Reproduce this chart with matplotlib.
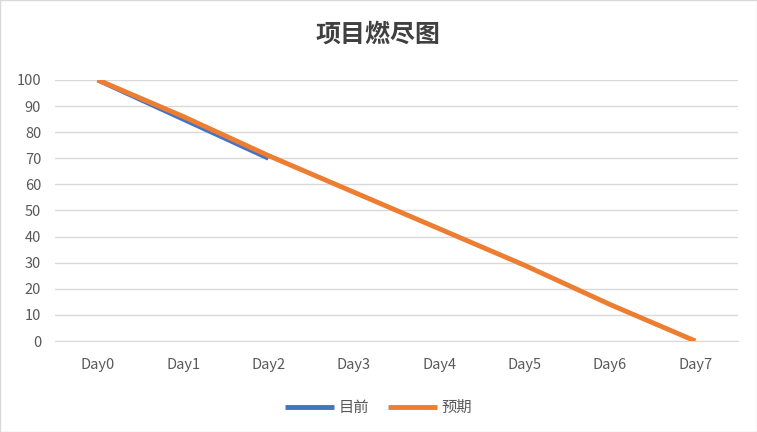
import matplotlib
matplotlib.use("Agg")
import matplotlib.pyplot as plt

plt.rcParams['font.family'] = ['Noto Sans CJK SC', 'DejaVu Sans']

days = ["Day0", "Day1", "Day2", "Day3", "Day4", "Day5", "Day6", "Day7"]
current = [100, 85, 70]
expected = [100, 86, 71, 57, 43, 29, 14, 0]

fig = plt.figure(figsize=(7.57, 4.32), dpi=100)
ax = fig.add_axes([0.0727, 0.2106, 0.9023, 0.6044])
x = list(range(len(days)))
l2, = ax.plot(x, expected, color="#ED7D31", lw=3.5, label="预期", solid_capstyle="butt", zorder=3)
l1, = ax.plot(x[:len(current)], current, color="#4472C4", lw=3.5, label="目前", solid_capstyle="butt", zorder=2)
ax.set_xlim(-0.5, 7.5)
ax.set_ylim(0, 100)
ax.set_yticks(range(0, 101, 10))
ax.set_xticks(x)
ax.set_xticklabels(days)
ax.grid(axis="y", color="#D9D9D9", lw=1)
ax.set_axisbelow(True)
for s in ["top", "right", "left"]:
    ax.spines[s].set_visible(False)
ax.spines["bottom"].set_color("#D9D9D9")
ax.tick_params(length=0, labelsize=10.5, colors="#595959")
ax.tick_params(axis="x", pad=12)
ax.tick_params(axis="y", pad=10)
fig.text(0.5, 0.92, "项目燃尽图", ha="center", va="center", fontsize=18, color="#404040", fontweight="bold")
fig.legend([l1, l2], ["目前", "预期"], loc="center", bbox_to_anchor=(0.5, 0.057), ncol=2, frameon=False,
           fontsize=11, handlelength=3.2, handletextpad=0.3, labelcolor="#595959", columnspacing=1.2)
fig.patches.append(plt.Rectangle((0, 0), 1, 1, transform=fig.transFigure, fill=False, edgecolor="#D9D9D9", lw=1))
fig.savefig("out.png", dpi=100)
